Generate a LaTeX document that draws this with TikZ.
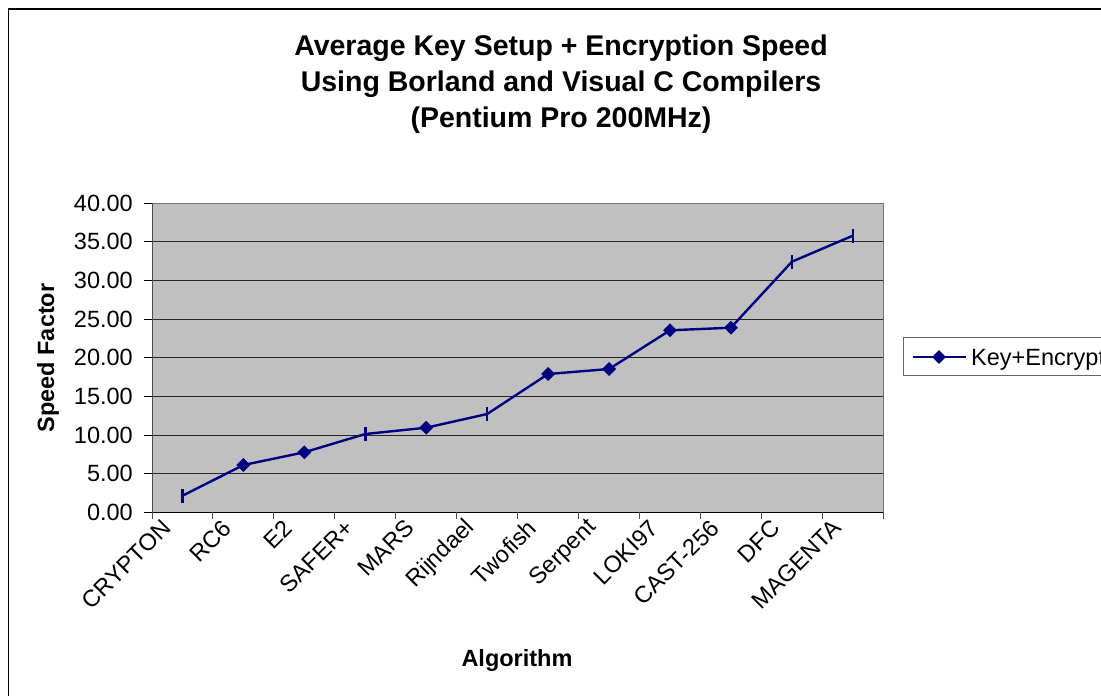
\documentclass[tikz,border=0pt]{standalone}
\usepackage{fontspec}
\setmainfont{Liberation Sans}
\usetikzlibrary{shapes.geometric}
\definecolor{navy}{RGB}{0,0,128}
\definecolor{plotgray}{RGB}{192,192,192}
\tikzset{
  series/.style={draw=navy, line width=2.4pt},
  dmark/.style={diamond, fill=navy, inner sep=0pt, minimum width=14pt, minimum height=14pt},
  ticklab/.style={font=\fontsize{23.5}{26}\selectfont, anchor=east, inner sep=0pt},
  catlab/.style={font=\fontsize{23.5}{26}\selectfont, anchor=east, rotate=45, inner sep=0pt},
  axtitle/.style={font=\fontsize{23.5}{26}\selectfont\bfseries, inner sep=0pt},
}
\begin{document}
\begin{tikzpicture}[x=1pt,y=-1pt]
\useasboundingbox (0,0) rectangle (1101,696);
\clip (0,0) rectangle (1101,696);
% outer chart frame
\draw[line width=1.6pt] (8.5,1000) -- (8.5,9) -- (1200,9);
% plot area
\fill[plotgray] (152,203.3) rectangle (883.3,512.3);
\foreach \y in {473.7,435.1,396.4,357.8,319.2,280.6,241.9}
  \draw[line width=1pt, black!85] (152,\y) -- (883.3,\y);
\draw[line width=1pt, black!55] (152,203.3) -- (883.3,203.3) -- (883.3,512.3);
\draw[line width=1pt, black!70] (152,203.3) -- (152,512.3);
% y ticks and labels
\foreach \y/\t in {512.3/0.00,473.7/5.00,435.1/10.00,396.4/15.00,357.8/20.00,319.2/25.00,280.6/30.00,241.9/35.00,203.3/40.00}{
  \draw[line width=1pt] (144,\y) -- (152,\y);
  \node[ticklab] at (133,\y) {\t};
}
% x axis and ticks
\draw[line width=1.2pt] (152,512.3) -- (883.3,512.3);
\foreach \i in {0,...,12}
  \draw[line width=1pt, black!70] ({152+60.94*\i},512.3) -- ({152+60.94*\i},519);
% category labels
\foreach \x/\t in {182.5/CRYPTON,243.4/RC6,304.3/E2,365.3/SAFER+,426.2/MARS,487.2/Rijndael,548.1/Twofish,609.1/Serpent,670/LOKI97,730.9/CAST-256,791.9/DFC,852.8/MAGENTA}
  \node[catlab] at ({\x-16},524) {\t};
% data points
\coordinate (p1) at (182.5,495.7);
\coordinate (p2) at (243.4,465);
\coordinate (p3) at (304.3,452.3);
\coordinate (p4) at (365.3,434);
\coordinate (p5) at (426.2,427.7);
\coordinate (p6) at (487.2,414);
\coordinate (p7) at (548.1,374);
\coordinate (p8) at (609.1,369);
\coordinate (p9) at (670,330.3);
\coordinate (p10) at (730.9,327.7);
\coordinate (p11) at (791.9,261.7);
\coordinate (p12) at (852.8,235.7);
\draw[series, line join=round] (p1) -- (p2) -- (p3) -- (p4) -- (p5) -- (p6) -- (p7) -- (p8) -- (p9) -- (p10) -- (p11) -- (p12);
\foreach \p in {p2,p3,p5,p7,p8,p9,p10}
  \node[dmark] (m\p) at (\p) {};
\foreach \p in {p1,p4,p6,p11,p12}
  \draw[series] ([yshift=-7pt]\p) -- ([yshift=7pt]\p);
% axis titles
\node[axtitle, rotate=90] (yt) at (48,358) {Speed Factor};
\node[axtitle] (xt) at (517,660) {Algorithm};
% title
\node[font=\fontsize{28.5}{36}\selectfont\bfseries, align=center, inner sep=0pt] (title) at (561,84)
  {Average Key Setup + Encryption Speed\\Using Borland and Visual C Compilers\\(Pentium Pro 200MHz)};
% legend
\draw[line width=1pt, black!60, fill=white] (903.3,337.3) rectangle (1110,375.7);
\coordinate (la) at (913,357);
\coordinate (lb) at (965.7,357);
\draw[series] (la) -- (lb);
\node[dmark] (lm) at (939,357) {};
\node[font=\fontsize{23.5}{26}\selectfont, anchor=base west, inner sep=0pt] (lt) at (971,365) {Key+Encryption};
\end{tikzpicture}
\end{document}
